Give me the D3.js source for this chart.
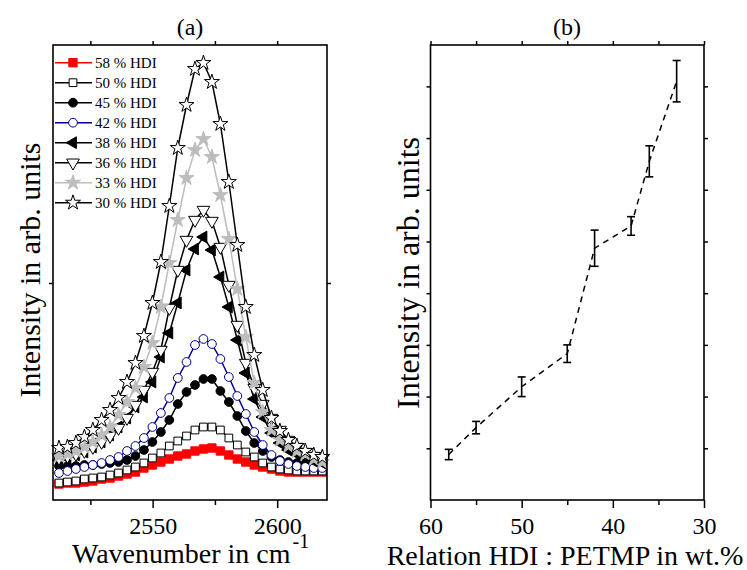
<!DOCTYPE html>
<html>
<head>
<meta charset="utf-8">
<script src="https://cdn.jsdelivr.net/npm/d3@7"></script>
<style>
  body { margin: 0; background: #fff; }
  svg, svg text { font-family: "Liberation Serif", "Times New Roman", serif; }
</style>
</head>
<body>
<script>
// ---- panel (a): band spectra ----
const wavenumber = [2512.4, 2515.8, 2519.2, 2522.6, 2526.0, 2529.5, 2532.9, 2536.3, 2539.7, 2543.1,
  2546.5, 2549.9, 2553.3, 2556.7, 2560.1, 2563.6, 2567.0, 2570.4, 2573.8, 2577.2,
  2580.6, 2584.0, 2587.4, 2590.8, 2594.2, 2597.7, 2601.1, 2604.5, 2607.9, 2611.3,
  2614.7, 2618.1];

const hdi58 = [16, 17, 17, 18, 19, 21, 22, 24, 26, 28, 32, 35, 38, 41, 44, 46, 49, 51, 52, 49, 45, 41, 38, 35, 33, 31, 29, 28, 28, 28, 28, 28];
const hdi50 = [17, 18, 19, 21, 22, 23, 25, 27, 30, 33, 37, 42, 47, 54, 59, 64, 70, 73, 73, 70, 62, 55, 48, 43, 37, 33, 31, 30, 29, 29, 29, 29];
const hdi45 = [34, 34, 34, 35, 35, 36, 37, 38, 40, 44, 50, 58, 68, 80, 96, 108, 115, 121, 121, 109, 98, 84, 69, 57, 49, 43, 40, 38, 37, 36, 36, 35];
const hdi42 = [27, 29, 31, 33, 35, 37, 40, 43, 49, 54, 62, 73, 87, 102, 122, 138, 155, 161, 156, 141, 123, 104, 86, 68, 55, 45, 39, 36, 34, 33, 32, 32];
const hdi38 = [40, 42, 45, 48, 53, 58, 65, 73, 82, 93, 103, 118, 143, 167, 197, 230, 251, 263, 250, 223, 193, 160, 127, 101, 83, 67, 57, 50, 46, 42, 39, 37];
const hdi36 = [42, 44, 46, 49, 53, 58, 64, 72, 82, 95, 110, 128, 150, 192, 230, 260, 280, 290, 279, 253, 215, 175, 137, 112, 96, 82, 70, 60, 53, 48, 44, 41];
const hdi33 = [44, 46, 49, 53, 58, 65, 73, 85, 98, 112, 133, 157, 193, 237, 280, 322, 350, 361, 343, 305, 261, 211, 163, 117, 88, 70, 60, 54, 49, 46, 41, 38];
const hdi30 = [52, 53, 57, 63, 70, 80, 90, 102, 118, 137, 164, 197, 238, 294, 352, 395, 431, 437, 418, 376, 318, 255, 193, 145, 110, 82, 69, 60, 54, 49, 45, 43];

const seriesLabels = ["58 % HDI", "50 % HDI", "45 % HDI", "42 % HDI", "38 % HDI", "36 % HDI", "33 % HDI", "30 % HDI"];

// ---- panel (b): band intensity vs composition ----
const ratioHDI = [58, 55, 50, 45, 42, 38, 36, 33];
const bandIntensity = [0.88, 1.40, 2.19, 2.83, 4.87, 5.30, 6.55, 8.10];
const bandError = [0.10, 0.12, 0.19, 0.17, 0.35, 0.18, 0.30, 0.40];

const xTicksA = [2550, 2600];
const xMinorA = [2525, 2575];
const xTicksB = [60, 50, 40, 30];
const xMinorB = [55, 45, 35];

const SERIF = '"Liberation Serif", "Times New Roman", serif';

// styles
const styles = [
  { data: hdi58, color: "#ff0000", fill: "#ff0000", sym: d3.symbolSquare, size: 70, rot: 0 },
  { data: hdi50, color: "#000", fill: "#fff", sym: d3.symbolSquare, size: 60, rot: 0 },
  { data: hdi45, color: "#000", fill: "#000", sym: d3.symbolCircle, size: 60, rot: 0 },
  { data: hdi42, color: "#000090", fill: "#fff", sym: d3.symbolCircle, size: 60, rot: 0 },
  { data: hdi38, color: "#000", fill: "#000", sym: d3.symbolTriangle, size: 60, rot: -90 },
  { data: hdi36, color: "#000", fill: "#fff", sym: d3.symbolTriangle, size: 70, rot: 180 },
  { data: hdi33, color: "#bdbdbd", fill: "#bdbdbd", sym: d3.symbolStar, size: 70, rot: 0 },
  { data: hdi30, color: "#000", fill: "#fff", sym: d3.symbolStar, size: 70, rot: 0 }
];

const W = 747, H = 570;
const svg = d3.select("body").append("svg").attr("width", W).attr("height", H)
  .attr("font-family", SERIF);

function tickAxis(g, axis, labelSize) {
  g.call(axis);
  g.attr("font-family", SERIF);
  g.select(".domain").remove();
  g.selectAll(".tick line").attr("stroke", "#000").attr("stroke-width", 1.5);
  g.selectAll(".tick text").attr("fill", "#000").attr("font-family", SERIF)
    .style("font-size", labelSize + "px");
}

function label(x, y, size, txt) {
  return svg.append("text").attr("x", x).attr("y", y).attr("font-family", SERIF)
    .style("font-size", size + "px").text(txt);
}

// ======== panel (a) ========
const xa = d3.scaleLinear().domain([2510, 2620]).range([53, 327]);
const ya = d3.scaleLinear().domain([0, 455]).range([500, 45]);

tickAxis(svg.append("g").attr("transform", "translate(0,500)"),
  d3.axisBottom(xa).tickValues(xTicksA).tickSize(8).tickPadding(9).tickFormat(d3.format("d")), 24);
tickAxis(svg.append("g").attr("transform", "translate(0,500)"),
  d3.axisBottom(xa).tickValues(xMinorA).tickSize(5).tickFormat(""), 0);
tickAxis(svg.append("g").attr("transform", "translate(0,45)"),
  d3.axisTop(xa).tickValues(xTicksA.concat(xMinorA)).tickSize(4).tickFormat(""), 0);
tickAxis(svg.append("g").attr("transform", "translate(53,0)"),
  d3.axisLeft(ya).tickValues([217]).tickSize(4).tickFormat(""), 0);
tickAxis(svg.append("g").attr("transform", "translate(327,0)"),
  d3.axisRight(ya).tickValues([217]).tickSize(4).tickFormat(""), 0);

const plotA = svg.append("g");
const lineA = d3.line().x((d, i) => xa(wavenumber[i])).y(d => ya(d));

styles.forEach(s => {
  const g = plotA.append("g");
  g.append("path").datum(s.data).attr("d", lineA)
    .attr("fill", "none").attr("stroke", s.color).attr("stroke-width", 1.5);
  const sym = d3.symbol().type(s.sym).size(s.size);
  g.selectAll("path.m").data(s.data).enter().append("path").attr("class", "m")
    .attr("d", sym)
    .attr("transform", (d, i) => "translate(" + xa(wavenumber[i]) + "," + ya(d) + ") rotate(" + s.rot + ")")
    .attr("fill", s.fill).attr("stroke", s.color).attr("stroke-width", 1);
});

svg.append("rect").attr("x", 53).attr("y", 45).attr("width", 274).attr("height", 455)
  .attr("fill", "none").attr("stroke", "#000").attr("stroke-width", 1.6);

// legend
const leg = svg.append("g");
styles.forEach((s, k) => {
  const y = 62.7 + 20 * k;
  leg.append("line").attr("x1", 55).attr("x2", 92).attr("y1", y).attr("y2", y)
    .attr("stroke", s.color).attr("stroke-width", 1.5);
  leg.append("path").attr("d", d3.symbol().type(s.sym).size(s.size)())
    .attr("transform", "translate(73," + y + ") rotate(" + s.rot + ")")
    .attr("fill", s.fill).attr("stroke", s.color).attr("stroke-width", 1);
  leg.append("text").attr("x", 95).attr("y", y).attr("dy", "0.35em")
    .attr("font-family", SERIF).style("font-size", "15px").text(seriesLabels[k]);
});

label(190, 35, 24, "(a)").attr("text-anchor", "middle");

const xlab = label(72, 563, 28, null);
xlab.append("tspan").text("Wavenumber in cm");
xlab.append("tspan").attr("dx", 2).attr("dy", -15).style("font-size", "20px").text("-1");

label(0, 0, 30, "Intensity in arb. units").attr("x", null).attr("y", null)
  .attr("transform", "translate(40,270) rotate(-90)").attr("text-anchor", "middle");

// ======== panel (b) ========
const xb = d3.scaleLinear().domain([60, 30]).range([430.5, 704]);
const yb = d3.scaleLinear().domain([0, 8.8]).range([500, 45]);

tickAxis(svg.append("g").attr("transform", "translate(0,500)"),
  d3.axisBottom(xb).tickValues(xTicksB).tickSize(8).tickPadding(9).tickFormat(d3.format("d")), 24);
tickAxis(svg.append("g").attr("transform", "translate(0,500)"),
  d3.axisBottom(xb).tickValues(xMinorB).tickSize(5).tickFormat(""), 0);
tickAxis(svg.append("g").attr("transform", "translate(0,45)"),
  d3.axisTop(xb).tickValues(xTicksB.concat(xMinorB)).tickSize(4).tickFormat(""), 0);
tickAxis(svg.append("g").attr("transform", "translate(430.5,0)"),
  d3.axisLeft(yb).tickValues(d3.range(1, 9)).tickSize(4).tickFormat(""), 0);
tickAxis(svg.append("g").attr("transform", "translate(704,0)"),
  d3.axisRight(yb).tickValues(d3.range(1, 9)).tickSize(4).tickFormat(""), 0);

const plotB = svg.append("g");
plotB.append("path").datum(bandIntensity)
  .attr("d", d3.line().x((d, i) => xb(ratioHDI[i])).y(d => yb(d)))
  .attr("fill", "none").attr("stroke", "#000").attr("stroke-width", 1.5)
  .attr("stroke-dasharray", "6,5");

const eb = plotB.selectAll("g.eb").data(bandIntensity).enter().append("g").attr("class", "eb");
eb.append("line")
  .attr("x1", (d, i) => xb(ratioHDI[i])).attr("x2", (d, i) => xb(ratioHDI[i]))
  .attr("y1", (d, i) => yb(d - bandError[i])).attr("y2", (d, i) => yb(d + bandError[i]))
  .attr("stroke", "#000").attr("stroke-width", 1.6);
[-1, 1].forEach(sgn => {
  eb.append("line")
    .attr("x1", (d, i) => xb(ratioHDI[i]) - 4).attr("x2", (d, i) => xb(ratioHDI[i]) + 4)
    .attr("y1", (d, i) => yb(d + sgn * bandError[i])).attr("y2", (d, i) => yb(d + sgn * bandError[i]))
    .attr("stroke", "#000").attr("stroke-width", 1.6);
});

svg.append("rect").attr("x", 430.5).attr("y", 45).attr("width", 273.5).attr("height", 455)
  .attr("fill", "none").attr("stroke", "#000").attr("stroke-width", 1.6);

label(567, 35, 24, "(b)").attr("text-anchor", "middle");

label(565, 565, 28, "Relation HDI : PETMP in wt.%").attr("text-anchor", "middle");

label(0, 0, 32, "Intensity in arb. units").attr("x", null).attr("y", null)
  .attr("transform", "translate(419,273) rotate(-90)").attr("text-anchor", "middle");
</script>
</body>
</html>
